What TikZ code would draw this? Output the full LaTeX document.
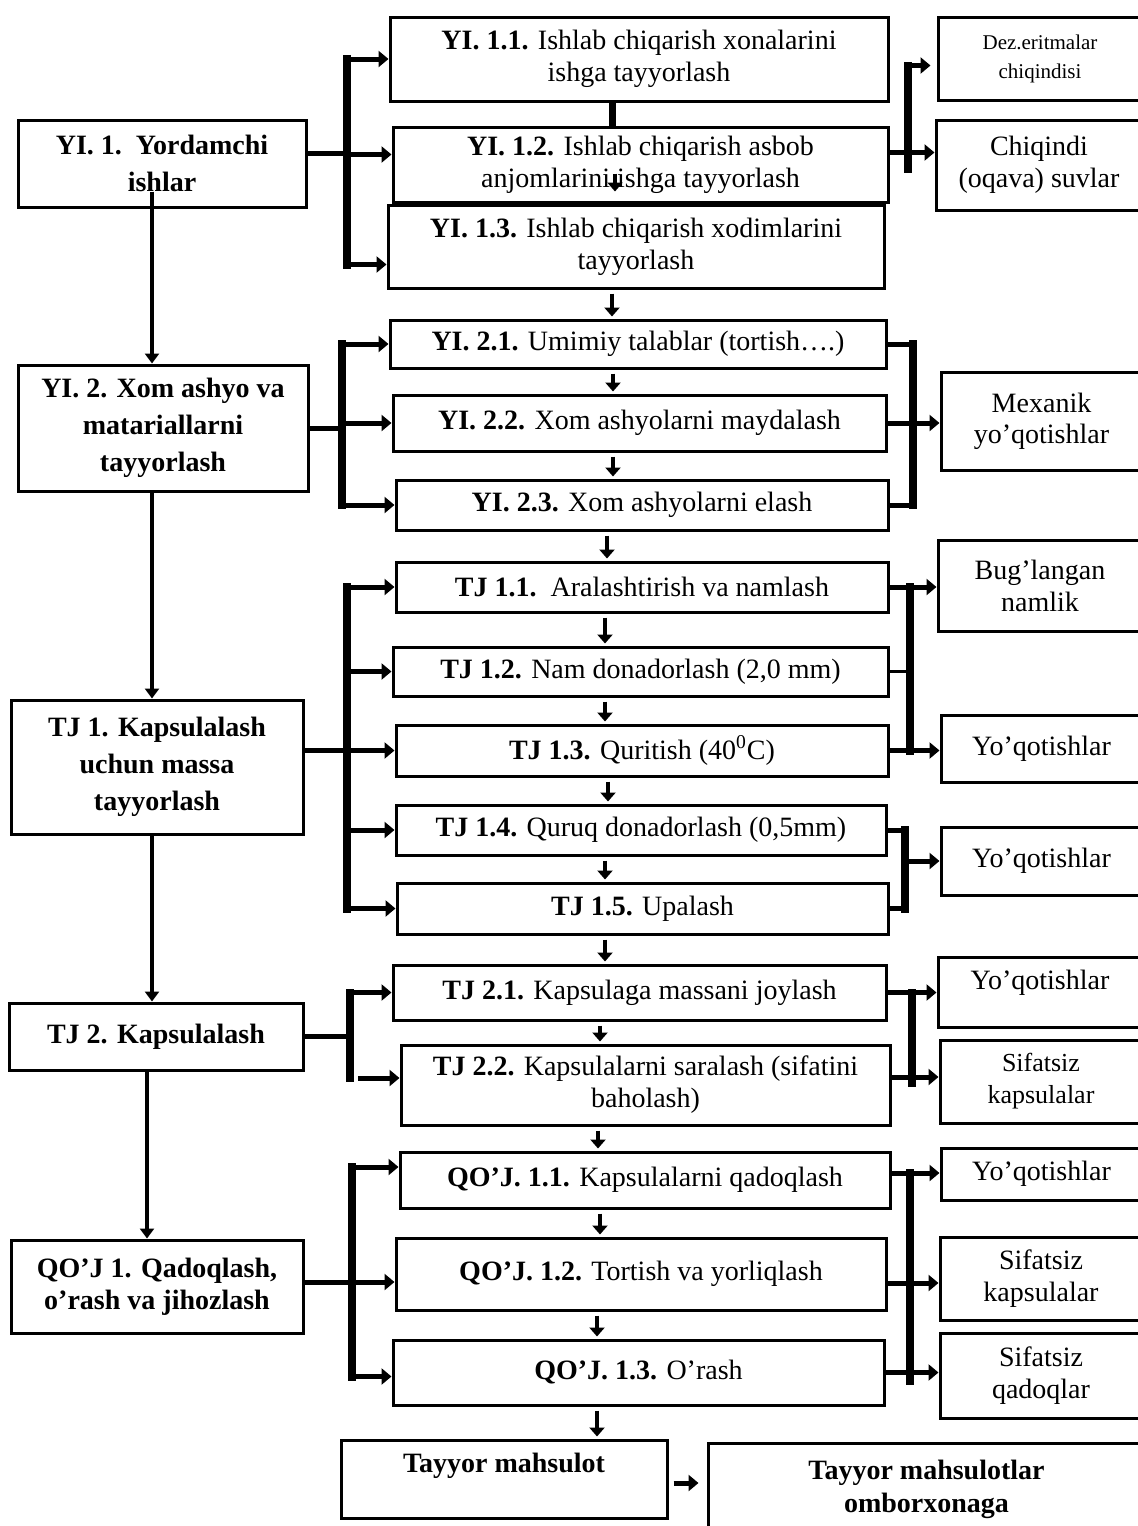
\documentclass[tikz,border=0pt]{standalone}
\usepackage{fontspec}
\setmainfont{Liberation Serif}
\usetikzlibrary{arrows.meta,calc}
\newcommand\bx[7][]{\node[box,#1,minimum width={(#5-#3)*0.5pt},minimum height={(#6-#4)*0.5pt}] (#2) at ({(#3+#5)/2},{(#4+#6)/2}) {#7};}
\begin{document}
\begin{tikzpicture}[x=0.5pt,y=-0.5pt,
  box/.style={draw,fill=white,line width=1.5pt,inner sep=0pt,align=center,font=\fontsize{14}{16}\selectfont},
  lbox/.style={box,font=\fontsize{14}{18.5}\selectfont\bfseries},
  rbox/.style={box,font=\fontsize{14}{16}\selectfont},
  arm/.style={line width=2.5pt},
  thinarm/.style={line width=1.5pt},
  bar/.style={line width=4pt,line cap=rect},
  arr/.style={line width=2.5pt,-{Triangle[length=5pt,width=8pt]}},
  sarr/.style={line width=2pt,-{Triangle[length=4.5pt,width=7.5pt]},shorten <=2pt,shorten >=1pt},
  larr/.style={line width=2pt,-{Triangle[length=5pt,width=7pt]}}]
\fill[white] (0,0) rectangle (1137,1526);
\useasboundingbox (0,0) rectangle (1137,1526);

% left column
\bx[lbox]{L1}{18}{120}{306}{207}{YI. 1.\ \ Yordamchi\\ishlar}
\bx[lbox]{L2}{18}{365}{308}{491}{YI. 2. Xom ashyo va\\matariallarni\\tayyorlash}
\bx[lbox]{L3}{11}{700}{303}{834}{TJ 1. Kapsulalash\\uchun massa\\tayyorlash}
\bx[lbox]{L4}{9}{1003}{303}{1070}{TJ 2. Kapsulalash}
\bx[lbox,font=\fontsize{14}{16}\selectfont\bfseries]{L5}{11}{1240}{303}{1333}{QO’J 1. Qadoqlash,\\o’rash va jihozlash}

% middle column
\bx{M11}{390}{17}{888}{101}{\textbf{YI. 1.1.} Ishlab chiqarish xonalarini\\ishga tayyorlash}
\bx{M12}{393}{127}{888}{202}{\textbf{YI. 1.2.} Ishlab chiqarish asbob\\anjomlarini ishga tayyorlash}
\bx{M13}{388}{205}{884}{288}{\textbf{YI. 1.3.} Ishlab chiqarish xodimlarini\\tayyorlash}
\bx{M21}{390}{320}{886}{368}{\textbf{YI. 2.1.} Umimiy talablar (tortish….)}
\bx{M22}{393}{395}{886}{451}{\textbf{YI. 2.2.} Xom ashyolarni maydalash}
\bx{M23}{396}{480}{888}{530}{\textbf{YI. 2.3.} Xom ashyolarni elash}
\bx{T11}{396}{562}{888}{612}{\textbf{TJ 1.1.}\ \ Aralashtirish va namlash}
\bx{T12}{393}{647}{888}{696}{\textbf{TJ 1.2.} Nam donadorlash (2,0 mm)}
\bx{T13}{396}{725}{888}{776}{\textbf{TJ 1.3.} Quritish (40\textsuperscript{0}C)}
\bx{T14}{396}{805}{886}{855}{\textbf{TJ 1.4.} Quruq donadorlash (0,5mm)}
\bx{T15}{397}{883}{888}{934}{\textbf{TJ 1.5.} Upalash}
\bx{T21}{393}{965}{886}{1020}{\textbf{TJ 2.1.} Kapsulaga massani joylash}
\bx{T22}{401}{1045}{890}{1125}{\textbf{TJ 2.2.} Kapsulalarni saralash (sifatini\\baholash)}
\bx{Q11}{400}{1152}{890}{1208}{\textbf{QO’J. 1.1.} Kapsulalarni qadoqlash}
\bx{Q12}{396}{1238}{886}{1310}{\textbf{QO’J. 1.2.} Tortish va yorliqlash}
\bx{Q13}{393}{1340}{884}{1405}{\textbf{QO’J. 1.3.} O’rash}
\bx[font=\fontsize{14}{16}\selectfont\bfseries]{TM}{341}{1440}{667}{1518}{Tayyor mahsulot\\[0pt]\mbox{}}
\bx[font=\fontsize{14}{16.5}\selectfont\bfseries]{TMO}{708}{1443}{1145}{1535}{Tayyor mahsulotlar\\omborxonaga}

% right column
\bx[rbox,font=\fontsize{10.5}{14.5}\selectfont]{R1}{938}{17}{1142}{100}{Dez.eritmalar\\chiqindisi}
\bx[rbox]{R2}{936}{120}{1142}{210}{Chiqindi\\(oqava) suvlar}
\bx[rbox,font=\fontsize{14}{15.5}\selectfont]{R3}{941}{372}{1142}{470}{Mexanik\\yo’qotishlar}
\bx[rbox]{R4}{938}{540}{1142}{631}{Bug’langan\\namlik}
\bx[rbox]{R5}{941}{715}{1142}{782}{Yo’qotishlar}
\bx[rbox]{R6}{941}{827}{1142}{895}{Yo’qotishlar}
\bx[rbox]{R7}{938}{957}{1142}{1027}{Yo’qotishlar\\[-4pt]\mbox{}}
\bx[rbox,font=\fontsize{13}{16}\selectfont]{R8}{940}{1040}{1142}{1123}{Sifatsiz\\kapsulalar}
\bx[rbox]{R9}{941}{1148}{1142}{1200}{Yo’qotishlar}
\bx[rbox]{R10}{940}{1237}{1142}{1320}{Sifatsiz\\kapsulalar}
\bx[rbox]{R11}{940}{1333}{1142}{1418}{Sifatsiz\\qadoqlar}

% left vertical arrows
\coordinate (lv) at (152,0);
\coordinate (lv2) at (147,0);
\draw[larr] ($(L1.south -| lv)+(0,-17)$) -- (L2.north -| lv);
\draw[larr] (L2.south -| lv) -- (L3.north -| lv);
\draw[larr] (L3.south -| lv) -- (L4.north -| lv);
\draw[larr] (L4.south -| lv2) -- (L5.north -| lv2);

% left bracket 1
\coordinate (bl1) at (347,0);
\coordinate (c1) at ($(L1.east)+(0,-10)$);
\coordinate (c2) at ($(M12.west)+(0,-10)$);
\coordinate (c3) at ($(M13.west)+(0,18)$);
\draw[arm] (c1) -- (c1 -| bl1);
\draw[bar] (M11.west -| bl1) -- (c3 -| bl1);
\draw[arr] (M11.west -| bl1) -- (M11.west);
\draw[arr] (c2 -| bl1) -- (c2);
\draw[arr] (c3 -| bl1) -- (c3);

% left bracket 2
\coordinate (bl2) at (342,0);
\draw[arm] (L2.east) -- (L2.east -| bl2);
\draw[bar] (M21.west -| bl2) -- (M23.west -| bl2);
\draw[arr] (M21.west -| bl2) -- (M21.west);
\draw[arr] (M22.west -| bl2) -- (M22.west);
\draw[arr] (M23.west -| bl2) -- (M23.west);

% left bracket 3
\coordinate (bl3) at (347,0);
\coordinate (c4) at ($(L3.east)+(0,-17)$);
\draw[arm] (c4) -- (c4 -| bl3);
\draw[bar] (T11.west -| bl3) -- (T15.west -| bl3);
\draw[arr] (T11.west -| bl3) -- (T11.west);
\draw[arr] (T12.west -| bl3) -- (T12.west);
\draw[arr] (T13.west -| bl3) -- (T13.west);
\draw[arr] (T14.west -| bl3) -- (T14.west);
\draw[arr] (T15.west -| bl3) -- (T15.west);

% left bracket 4
\coordinate (bl4) at (350,0);
\coordinate (c5) at ($(T22.west)+(0,-7)$);
\draw[arm] (L4.east) -- (L4.east -| bl4);
\draw[bar] (T21.west -| bl4) -- (c5 -| bl4);
\draw[arr] (T21.west -| bl4) -- (T21.west);
\draw[arr] ($(c5 -| bl4)+(8,0)$) -- (c5);

% left bracket 5
\coordinate (bl5) at (352,0);
\coordinate (c6) at ($(L5.east)+(0,-4)$);
\coordinate (c7) at ($(Q11.west)+(0,-13)$);
\coordinate (c8) at ($(Q12.west)+(0,8)$);
\coordinate (c9) at ($(Q13.west)+(0,4)$);
\draw[arm] (c6) -- (c6 -| bl5);
\draw[bar] (c7 -| bl5) -- (c9 -| bl5);
\draw[arr] (c7 -| bl5) -- (c7);
\draw[arr] (c8 -| bl5) -- (c8);
\draw[arr] (c9 -| bl5) -- (c9);

% right bracket 1
\coordinate (br1) at (908,0);
\coordinate (a1) at ($(M12.east)+(0,-12)$);
\coordinate (a2) at ($(R1.west)+(0,7)$);
\draw[arr] (a1) -- (a1 -| R2.west);
\draw[bar] (a2 -| br1) -- ($(a1 -| br1)+(0,16)$);
\draw[arr] (a2 -| br1) -- ($(a2)+(-6,0)$);

% right bracket 2
\coordinate (br2) at (913,0);
\draw[arm] (M21.east) -- (M21.east -| br2);
\draw[arm] (M23.east) -- (M23.east -| br2);
\draw[arm] (M22.east) -- (M22.east -| br2);
\draw[bar] (M21.east -| br2) -- (M23.east -| br2);
\draw[arr] (M22.east -| br2) -- (M22.east -| R3.west);

% right bracket 3
\coordinate (br3) at (910,0);
\draw[bar] (T11.east -| br3) -- (T13.east -| br3);
\draw[arr] (T11.east) -- (T11.east -| R4.west);
\draw[thinarm] (T12.east) -- (T12.east -| br3);
\draw[arr] (T13.east) -- (T13.east -| R5.west);

% right bracket 4
\coordinate (br4) at (905,0);
\draw[arm] (T14.east) -- (T14.east -| br4);
\draw[arm] (T15.east) -- (T15.east -| br4);
\draw[bar] (T14.east -| br4) -- (T15.east -| br4);
\draw[arr] (R6.west -| br4) -- (R6.west);

% right bracket 5
\coordinate (br5) at (912,0);
\coordinate (a3) at ($(T22.east)+(0,-8)$);
\draw[bar] (T21.east -| br5) -- ($(a3 -| br5)+(0,6)$);
\draw[arr] (T21.east) -- (T21.east -| R7.west);
\draw[arr] (a3) -- (a3 -| R8.west);

% right bracket 6
\coordinate (br6) at (910,0);
\coordinate (a4) at ($(Q11.east)+(0,-7)$);
\coordinate (a5) at ($(Q12.east)+(0,9)$);
\draw[bar] (a4 -| br6) -- ($(Q13.east -| br6)+(0,8)$);
\draw[arr] (a4) -- (a4 -| R9.west);
\draw[arr] (a5) -- (a5 -| R10.west);
\draw[arr] (Q13.east) -- (Q13.east -| R11.west);

% small vertical arrows
\coordinate (v1) at (612,0);
\coordinate (v2) at (615,0);
\coordinate (v3) at (613,0);
\coordinate (v4) at (607,0);
\coordinate (v5) at (605,0);
\coordinate (v6) at (608,0);
\coordinate (v7) at (600,0);
\coordinate (v8) at (598,0);
\coordinate (v9) at (597,0);
\draw[line width=3.5pt] (M11.south -| v1) -- (M12.north -| v1);
\draw[sarr,shorten <=0pt] ($(M12.south -| v2)+(0,-30)$) -- ($(M12.south -| v2)+(0,-10)$);
\draw[sarr] (M13.south -| v1) -- (M21.north -| v1);
\draw[sarr] (M21.south -| v3) -- (M22.north -| v3);
\draw[sarr] (M22.south -| v3) -- (M23.north -| v3);
\draw[sarr] (M23.south -| v4) -- (T11.north -| v4);
\draw[sarr] (T11.south -| v5) -- (T12.north -| v5);
\draw[sarr] (T12.south -| v5) -- (T13.north -| v5);
\draw[sarr] (T13.south -| v6) -- (T14.north -| v6);
\draw[sarr] (T14.south -| v5) -- (T15.north -| v5);
\draw[sarr] (T15.south -| v5) -- (T21.north -| v5);
\draw[sarr] (T21.south -| v7) -- (T22.north -| v7);
\draw[sarr] (T22.south -| v8) -- (Q11.north -| v8);
\draw[sarr] (Q11.south -| v7) -- (Q12.north -| v7);
\draw[sarr] (Q12.south -| v9) -- (Q13.north -| v9);
\draw[sarr] (Q13.south -| v9) -- (TM.north -| v9);
\coordinate (h1) at ($(TM.east)+(0,4)$);
\draw[arr,shorten <=2.5pt,shorten >=4pt] (h1) -- (h1 -| TMO.west);
\end{tikzpicture}
\end{document}
